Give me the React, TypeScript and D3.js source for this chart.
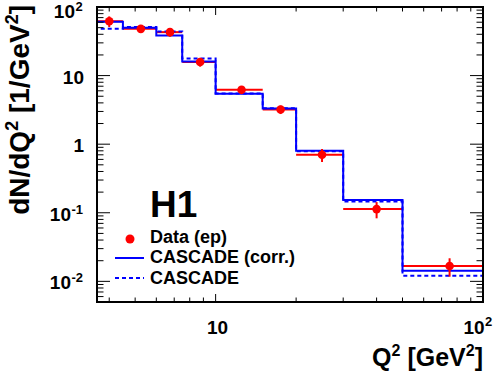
import React from "react";
import * as d3 from "d3";

// Q^2 bin edges (GeV^2)
const binEdges = [3.5, 4.5, 6, 7.5, 10, 15, 20, 30, 50, 100];
// H1 data (ep)
const dataValues = [62, 48, 43, 15.8, 6.2, 3.2, 0.7, 0.113, 0.0167];
const dataErrors = [11, 2, 6, 2.3, 0.4, 0.45, 0.15, 0.03, 0.005];
// CASCADE (corr.)
const cascadeCorr = [61, 50, 38.5, 16.1, 5.45, 3.3, 0.8, 0.154, 0.0143];
// CASCADE
const cascade = [48, 51, 44, 17.8, 5.5, 3.35, 0.79, 0.146, 0.0121];

const xTickLabels = [
  { v: 10, base: "10", sup: "" },
  { v: 100, base: "10", sup: "2" },
];
const yTickLabels = [
  { v: 100, base: "10", sup: "2" },
  { v: 10, base: "10", sup: "" },
  { v: 1, base: "1", sup: "" },
  { v: 0.1, base: "10", sup: "-1" },
  { v: 0.01, base: "10", sup: "-2" },
];

const W = 498;
const H = 375;
const L = 97, R = 483, T = 7, B = 302;
const FONT = "'Liberation Sans', Arial, Helvetica, sans-serif";

export default function App() {
  const x = d3.scaleLog().domain([3.6, 100]).range([L, R]);
  const y = d3.scaleLog().domain([0.005, 100]).range([B, T]);

  const stepLine = (vals: number[]) => {
    const pts: [number, number][] = vals.map((v, i) => [binEdges[i], v]);
    pts.push([binEdges[binEdges.length - 1], vals[vals.length - 1]]);
    return d3
      .line<[number, number]>()
      .x((d) => x(d[0]))
      .y((d) => y(d[1]))
      .curve(d3.curveStepAfter)(pts) as string;
  };

  const [xmin, xmax] = x.domain();
  const [ymin, ymax] = y.domain();
  const xTicks: { v: number; major: boolean }[] = [];
  const yTicks: { v: number; major: boolean }[] = [];
  for (let e = -3; e <= 2; e++) {
    for (let k = 1; k <= 9; k++) {
      const v = k * Math.pow(10, e);
      if (v >= xmin - 1e-9 && v <= xmax + 1e-9) xTicks.push({ v, major: k === 1 });
      if (v >= ymin - 1e-12 && v <= ymax + 1e-9) yTicks.push({ v, major: k === 1 });
    }
  }

  const centers = binEdges.slice(0, -1).map((e, i) => (e + binEdges[i + 1]) / 2);

  return (
    <svg
      width={W}
      height={H}
      style={{ position: "absolute", left: 0, top: 0, background: "#fff" }}
      fontFamily={FONT}
      fontWeight="bold"
    >
      <defs>
        <clipPath id="plotclip">
          <rect x={L} y={T} width={R - L} height={B - T} />
        </clipPath>
      </defs>
      <rect x={0} y={0} width={W} height={H} fill="#fff" />

      <g clipPath="url(#plotclip)">
        {dataValues.map((v, i) => (
          <line
            key={"dh" + i}
            x1={x(binEdges[i])}
            x2={x(binEdges[i + 1])}
            y1={y(v)}
            y2={y(v)}
            stroke="#ff0000"
            strokeWidth={2}
          />
        ))}
        <path d={stepLine(cascadeCorr)} fill="none" stroke="#0000ff" strokeWidth={2} />
        <path
          d={stepLine(cascade)}
          fill="none"
          stroke="#0000ff"
          strokeWidth={2}
          strokeDasharray="4,3"
        />
        {dataValues.map((v, i) => (
          <line
            key={"de" + i}
            x1={x(centers[i])}
            x2={x(centers[i])}
            y1={y(v + dataErrors[i])}
            y2={y(v - dataErrors[i])}
            stroke="#ff0000"
            strokeWidth={2}
          />
        ))}
        {dataValues.map((v, i) => (
          <circle key={"dp" + i} cx={x(centers[i])} cy={y(v)} r={4.3} fill="#ff0000" />
        ))}
      </g>

      {yTicks.map((t, i) => {
        const len = t.major ? 13 : 6.5;
        const yy = y(t.v);
        return (
          <g key={"yt" + i}>
            <line x1={L} x2={L + len} y1={yy} y2={yy} stroke="#000" strokeWidth={1} />
            <line x1={R} x2={R - len} y1={yy} y2={yy} stroke="#000" strokeWidth={1} />
          </g>
        );
      })}
      {xTicks.map((t, i) => {
        const len = t.major ? 8 : 4.5;
        const xx = x(t.v);
        return (
          <g key={"xt" + i}>
            <line x1={xx} x2={xx} y1={B} y2={B - len} stroke="#000" strokeWidth={1} />
            <line x1={xx} x2={xx} y1={T} y2={T + len} stroke="#000" strokeWidth={1} />
          </g>
        );
      })}
      <rect x={L} y={T} width={R - L} height={B - T} fill="none" stroke="#000" strokeWidth={2} />

      {/* y tick labels */}
      {yTickLabels.map((t, i) => {
        const supW = t.sup ? (t.sup.length === 1 ? 9 : 13) : 0;
        const by = Math.max(y(t.v) + 8, 18);
        return (
          <g key={"yl" + i}>
            <text x={84 - supW} y={by} fontSize={19} textAnchor="end" fill="#000">
              {t.base}
            </text>
            {t.sup ? (
              <text x={84 - supW + 0.5} y={by - 7} fontSize={13} fill="#000">
                {t.sup}
              </text>
            ) : null}
          </g>
        );
      })}

      {/* x tick labels */}
      {xTickLabels.map((t, i) => (
        <g key={"xl" + i}>
          <text
            x={t.sup ? x(t.v) - 9 : x(t.v) + 2}
            y={334}
            fontSize={19}
            textAnchor="middle"
            fill="#000"
          >
            {t.base}
          </text>
          {t.sup ? (
            <text x={x(t.v) + 2} y={326} fontSize={13} fill="#000">
              {t.sup}
            </text>
          ) : null}
        </g>
      ))}

      {/* axis titles */}
      <text x={483} y={366} fontSize={25} textAnchor="end" fill="#000">
        Q<tspan dy={-10} fontSize={16}>2</tspan>
        <tspan dy={10}> [GeV</tspan>
        <tspan dy={-10} fontSize={16}>2</tspan>
        <tspan dy={10}>]</tspan>
      </text>
      <text
        transform="translate(29,5) rotate(-90)"
        fontSize={28}
        textAnchor="end"
        fill="#000"
      >
        dN/dQ<tspan dy={-11} fontSize={18}>2</tspan>
        <tspan dy={11}> [1/GeV</tspan>
        <tspan dy={-11} fontSize={18}>2</tspan>
        <tspan dy={11}>]</tspan>
      </text>

      {/* legend */}
      <text x={150} y={217} fontSize={37} fill="#000">
        H1
      </text>
      <circle cx={130} cy={239} r={4.5} fill="#ff0000" />
      <text x={150} y={243} fontSize={18} fill="#000">
        Data (ep)
      </text>
      <line x1={115} x2={144} y1={258} y2={258} stroke="#0000ff" strokeWidth={2} />
      <text x={150} y={263} fontSize={18} fill="#000">
        CASCADE (corr.)
      </text>
      <line
        x1={115}
        x2={144}
        y1={278}
        y2={278}
        stroke="#0000ff"
        strokeWidth={2}
        strokeDasharray="4,3"
      />
      <text x={150} y={284} fontSize={18} fill="#000">
        CASCADE
      </text>
    </svg>
  );
}
